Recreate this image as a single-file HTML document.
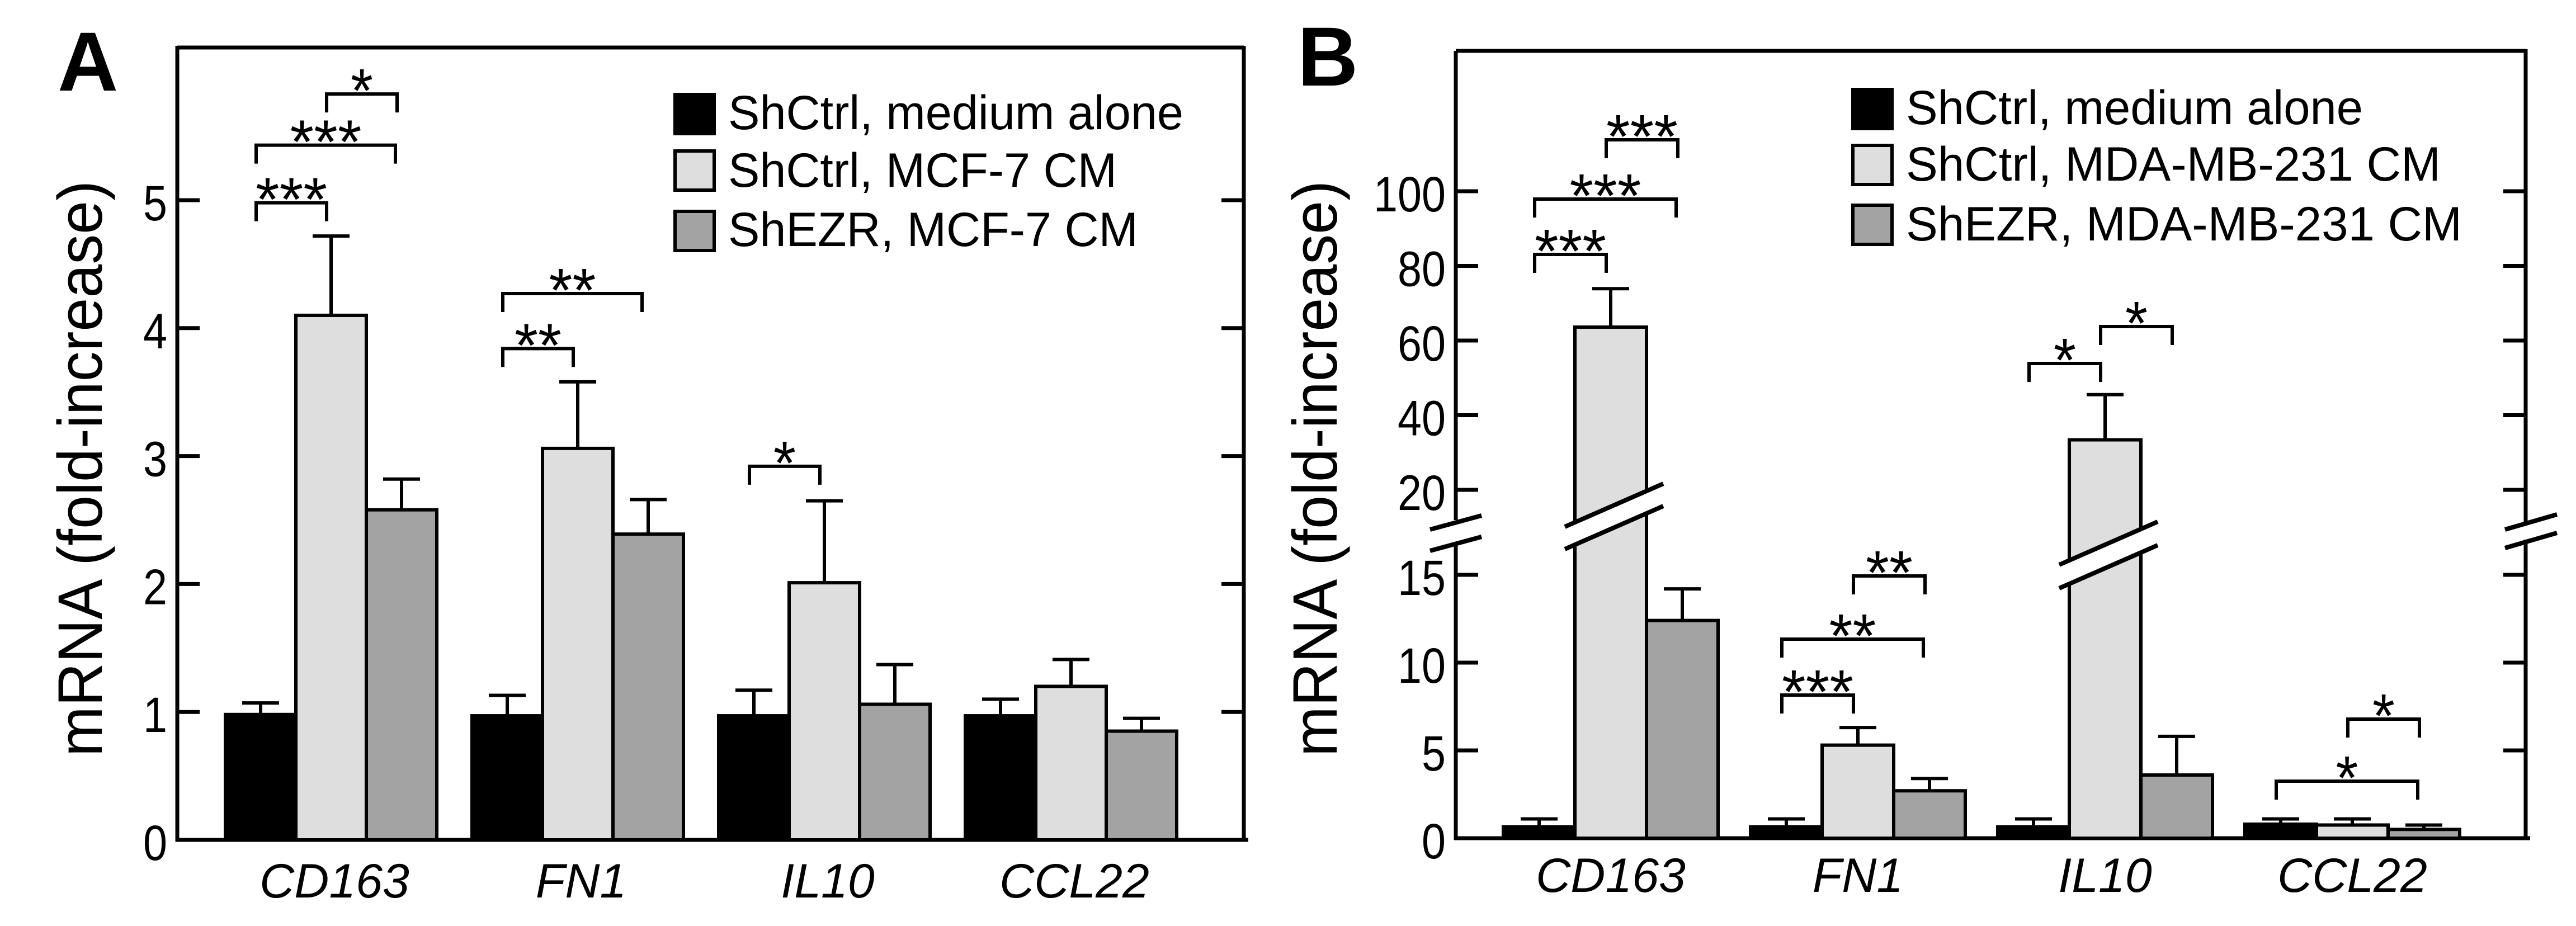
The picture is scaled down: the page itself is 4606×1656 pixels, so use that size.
<!DOCTYPE html>
<html><head><meta charset="utf-8">
<style>
html,body{margin:0;padding:0;background:#fff;}
svg{display:block;}
text{font-family:"Liberation Sans",sans-serif;fill:#000;}
</style></head>
<body>
<svg id="fig" width="4606" height="1656" viewBox="0 0 4606 1656" xmlns="http://www.w3.org/2000/svg"></svg>
<script>
// ---------- data ----------
const categories = ["CD163","FN1","IL10","CCL22"];
const seriesNames = ["ShCtrl, medium alone","ShCtrl","ShEZR"];
const legendA = ["ShCtrl, medium alone","ShCtrl, MCF-7 CM","ShEZR, MCF-7 CM"];
const legendB = ["ShCtrl, medium alone","ShCtrl, MDA-MB-231 CM","ShEZR, MDA-MB-231 CM"];
// Panel A values (mean, upper error)
const aMedium = [0.98,0.97,0.97,0.97];
const aMediumErr = [1.07,1.13,1.17,1.10];
const aCtrl = [4.10,3.06,2.01,1.20];
const aCtrlErr = [4.72,3.58,2.65,1.41];
const aEzr = [2.58,2.39,1.06,0.85];
const aEzrErr = [2.82,2.66,1.37,0.95];
const aTicks = [0,1,2,3,4,5];
// Panel B values
const bMedium = [0.65,0.65,0.65,0.8];
const bMediumErr = [1.1,1.1,1.1,1.1];
const bCtrl = [63.6,5.3,33.4,0.75];
const bCtrlErr = [73.9,6.3,45.5,1.1];
const bEzr = [12.4,2.7,3.6,0.5];
const bEzrErr = [14.2,3.4,5.8,0.75];
const bTicks = [0,5,10,15,20,40,60,80,100];
// significance: [group, fromSeries, toSeries, level, stars]
const sigA = [[0,0,1,4.98,"***"],[0,0,2,5.43,"***"],[0,1,2,5.83,"*"],[1,0,1,3.84,"**"],[1,0,2,4.27,"**"],[2,0,1,2.92,"*"]];
const sigB = [[0,0,1,455,"***"],[0,0,2,356,"***"],[0,1,2,250,"***"],[1,0,1,1243,"***"],[1,0,2,1143,"**"],[1,1,2,1030,"**"],[2,0,1,650,"*"],[2,1,2,584,"*"],[3,0,2,1397,"*"],[3,1,2,1286,"*"]];

const NS="http://www.w3.org/2000/svg";
const svg=document.getElementById('fig');
const colors=["#000000","#dedede","#a3a3a3"];
function el(tag,attrs,parent,txt){const e=document.createElementNS(NS,tag);for(const k in attrs)e.setAttribute(k,attrs[k]);if(txt!==undefined)e.textContent=txt;(parent||svg).appendChild(e);return e;}

// axis functions
function yA(v){return 1502 - v*228.8;}
function yB(v){ if(v<=15) return 1499 - v*31.4; if(v>=20) return 876 - (v-20)*6.675; return 1028 - (v-15)*30.4; }

function panel(cfg){
  const g=el('g',{});
  
  
  const L=el('text',{x:cfg.letterX,y:cfg.letterY,'font-size':150,'font-weight':'bold'},g,cfg.letter);
  
  
  const yl=el('text',{x:0,y:0,'font-size':112,'text-anchor':'middle',textLength:1030,lengthAdjust:'spacingAndGlyphs',transform:`translate(${cfg.ylabX},838) rotate(-90)`},g,'mRNA (fold-increase)');
  
  
  const fr=el('g',{},g);
  
  
  const sw=7;
  el('line',{x1:cfg.left,y1:cfg.top,x2:cfg.right,y2:cfg.top,stroke:'#000','stroke-width':sw},fr);
  el('line',{x1:cfg.left-3,y1:cfg.bottom,x2:cfg.right+8,y2:cfg.bottom,stroke:'#000','stroke-width':sw},fr);
  if(cfg.axisGap){
    const [a,b]=cfg.axisGap, [c,d]=cfg.axisGapR;
    el('line',{x1:cfg.left,y1:cfg.top,x2:cfg.left,y2:a,stroke:'#000','stroke-width':sw},fr);
    el('line',{x1:cfg.left,y1:b,x2:cfg.left,y2:cfg.bottom+3,stroke:'#000','stroke-width':sw},fr);
    el('line',{x1:cfg.right,y1:cfg.top-3,x2:cfg.right,y2:c,stroke:'#000','stroke-width':sw},fr);
    el('line',{x1:cfg.right,y1:d,x2:cfg.right,y2:cfg.bottom,stroke:'#000','stroke-width':sw},fr);
    cfg.axisBreaks.forEach(l=>{el('line',{x1:l[0],y1:l[1],x2:l[2],y2:l[3],stroke:'#000','stroke-width':8},fr);});
  } else {
    el('line',{x1:cfg.left,y1:cfg.top-3,x2:cfg.left,y2:cfg.bottom+3,stroke:'#000','stroke-width':sw},fr);
    el('line',{x1:cfg.right,y1:cfg.top-3,x2:cfg.right,y2:cfg.bottom,stroke:'#000','stroke-width':sw},fr);
  }
  cfg.ticks.forEach(t=>{
    const y=cfg.y(t);
    el('line',{x1:cfg.left,y1:y,x2:cfg.left+40,y2:y,stroke:'#000','stroke-width':7},fr);
    el('line',{x1:cfg.right-40,y1:y,x2:cfg.right,y2:y,stroke:'#000','stroke-width':7},fr);
    const s=String(t);
    const tl=el('text',{x:cfg.left-18,y:y+36,'font-size':89,'text-anchor':'end',textLength:s.length*43,lengthAdjust:'spacingAndGlyphs'},g,s);
    
    
  });
  const vals=[cfg.s0,cfg.s1,cfg.s2], errs=[cfg.e0,cfg.e1,cfg.e2];
  categories.forEach((c,gi)=>{
    const gg=el('g',{},g);
    
    
    for(let si=0;si<3;si++){
      const x=cfg.start+gi*cfg.step+si*cfg.bw;
      const yt=cfg.y(vals[si][gi]), ye=cfg.y(errs[si][gi]);
      const cx=x+cfg.bw/2;
      const eb=el('line',{x1:cx,y1:ye,x2:cx,y2:yt,stroke:'#000','stroke-width':6},gg);
      
      
      el('line',{x1:cx-33,y1:ye,x2:cx+33,y2:ye,stroke:'#000','stroke-width':6},gg);
      const r=el('rect',{x:x,y:yt,width:cfg.bw,height:cfg.bottom-yt,fill:colors[si],stroke:'#000','stroke-width':6},gg);
      
      
    }
    const lb=el('text',{x:cfg.start+gi*cfg.step+1.5*cfg.bw+cfg.labOff,y:cfg.labY,'font-size':86,'font-style':'italic','text-anchor':'middle'},g,c);
    
    
  });
  (cfg.barBreaks||[]).forEach(b=>{
    const x=cfg.start+b[0]*cfg.step+cfg.bw;
    const x1=x-18,x2=x+cfg.bw+30;
    el('polygon',{points:`${x1},${b[1]} ${x2},${b[2]} ${x2},${b[2]+b[3]} ${x1},${b[1]+b[3]}`,fill:'#fff'},g);
    el('line',{x1:x1,y1:b[1],x2:x2,y2:b[2],stroke:'#000','stroke-width':8},g);
    el('line',{x1:x1,y1:b[1]+b[3],x2:x2,y2:b[2]+b[3],stroke:'#000','stroke-width':8},g);
  });
  cfg.sig.forEach(s=>{
    const yb=cfg.sigY(s[3]);
    const xa=cfg.start+s[0]*cfg.step+s[1]*cfg.bw+cfg.bw/2-8;
    const xb=cfg.start+s[0]*cfg.step+s[2]*cfg.bw+cfg.bw/2+(s[2]-s[1]>1?-3:0)-8;
    const sg=el('g',{},g);
    
    
    el('polyline',{points:`${xa},${yb+33} ${xa},${yb} ${xb},${yb} ${xb},${yb+33}`,fill:'none',stroke:'#000','stroke-width':6},sg);
    el('text',{x:(xa+xb)/2,y:yb+32,'font-size':110,'text-anchor':'middle',textLength:s[4].length*44-4,lengthAdjust:'spacingAndGlyphs'},sg,s[4]);
  });
  const lg=el('g',{},g);
  
  
  cfg.legend.forEach((t,i)=>{
    const e=el('g',{},lg);
    
    
    el('rect',{x:cfg.legX+3,y:cfg.legBox[i]+3,width:70,height:70,fill:colors[i],stroke:'#000','stroke-width':6},e);
    el('text',{x:cfg.legX+98,y:cfg.legBase[i],'font-size':86,textLength:cfg.legW[i],lengthAdjust:'spacingAndGlyphs'},e,t);
  });
}

panel({name:'panel-a',letter:'A',letterX:103,letterY:162,ylabX:182,left:317,right:2224,top:85,bottom:1502,
  y:yA,ticks:aTicks,s0:aMedium,s1:aCtrl,s2:aEzr,e0:aMediumErr,e1:aCtrlErr,e2:aEzrErr,
  start:403,step:441,bw:126,labY:1605,labOff:6,
  sig:sigA,sigY:v=>yA(v),
  legend:legendA,legX:1204,legBox:[166,267,375],legBase:[231,334,440],legW:[814,695,733]});

panel({name:'panel-b',letter:'B',letterX:2320,letterY:153,ylabX:2390,left:2603,right:4516,top:91,bottom:1499,
  y:yB,ticks:bTicks,s0:bMedium,s1:bCtrl,s2:bEzr,e0:bMediumErr,e1:bCtrlErr,e2:bEzrErr,
  start:2688,step:442,bw:128,labY:1595,labOff:0,
  axisGap:[930,970],axisGapR:[937,965],
  axisBreaks:[[2557,947,2649,922],[2557,985,2649,960],[4479,947,4572,920],[4479,980,4572,953]],
  barBreaks:[[0,942,865,40],[2,1010,933,42]],
  sig:sigB,sigY:v=>v,
  legend:legendB,legX:3310,legBox:[157,257,364],legBase:[222,323,430],legW:[817,956,994]});
</script>
</body></html>
